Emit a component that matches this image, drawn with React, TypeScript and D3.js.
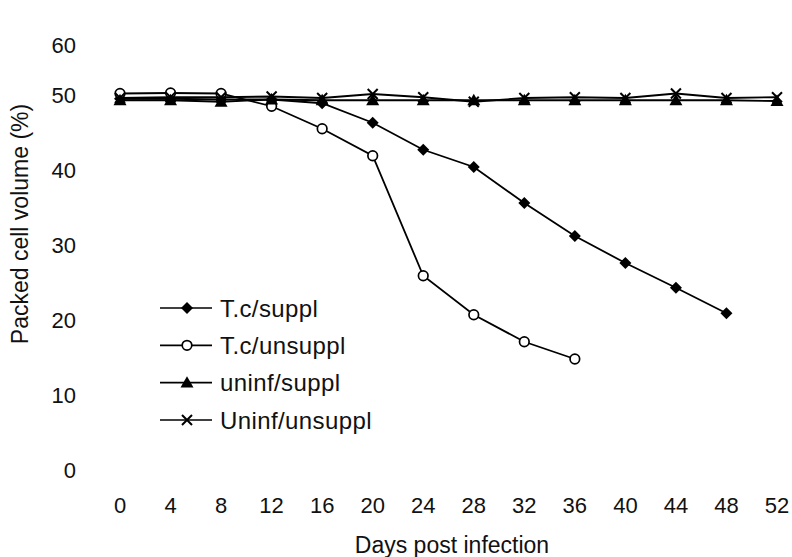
import React from "react";
import * as d3 from "d3";

const days = [0, 4, 8, 12, 16, 20, 24, 28, 32, 36, 40, 44, 48, 52];
const yTicks = [0, 10, 20, 30, 40, 50, 60];

const tcSuppl = [49.5, 49.5, 49.4, 49.4, 48.9, 46.3, 42.7, 40.4, 35.6, 31.2, 27.6, 24.3, 20.9];
const tcUnsuppl = [50.3, 50.4, 50.3, 48.5, 45.5, 41.9, 25.9, 20.7, 17.1, 14.8];
const uninfSuppl = [49.3, 49.3, 49.1, 49.4, 49.3, 49.3, 49.3, 49.3, 49.3, 49.3, 49.3, 49.3, 49.3, 49.2];
const uninfUnsuppl = [49.6, 49.7, 49.7, 49.8, 49.6, 50.2, 49.7, 49.1, 49.6, 49.7, 49.6, 50.3, 49.6, 49.7];

const seriesNames = ["T.c/suppl", "T.c/unsuppl", "uninf/suppl", "Uninf/unsuppl"];
const seriesMarkers = ["diamond", "circle", "triangle", "cross"];
const seriesValues = [tcSuppl, tcUnsuppl, uninfSuppl, uninfUnsuppl];

const FONT = "'Liberation Sans', Arial, Helvetica, sans-serif";

function Marker({ type, x, y }: { type: string; x: number; y: number }) {
  if (type === "diamond") {
    const s = 6;
    return <path d={`M${x},${y - s}L${x + s},${y}L${x},${y + s}L${x - s},${y}Z`} fill="#000" />;
  }
  if (type === "circle") {
    return <circle cx={x} cy={y} r={4.8} fill="#fff" stroke="#000" strokeWidth={1.7} />;
  }
  if (type === "triangle") {
    const s = 6.5;
    return <path d={`M${x},${y - s}L${x + s},${y + s * 0.75}L${x - s},${y + s * 0.75}Z`} fill="#000" />;
  }
  const s = 5;
  return (
    <path
      d={`M${x - s},${y - s}L${x + s},${y + s}M${x + s},${y - s}L${x - s},${y + s}`}
      stroke="#000"
      strokeWidth={2}
      fill="none"
    />
  );
}

export default function App() {
  const W = 792;
  const H = 557;
  const x = d3.scaleLinear().domain([0, 52]).range([120, 777]);
  const y = d3.scaleLinear().domain([0, 50, 60]).range([470, 95, 45]);

  const line = d3
    .line<number>()
    .x((_, i) => x(days[i]))
    .y((v) => y(v));

  const legendY = d3.scaleLinear().domain([0, 3]).range([308, 420]);

  return (
    <svg
      width={W}
      height={H}
      viewBox={`0 0 ${W} ${H}`}
      style={{ position: "absolute", left: 0, top: 0, background: "#fff" }}
      fontFamily={FONT}
    >
      <rect x={0} y={0} width={W} height={H} fill="#fff" />
      {yTicks.map((t) => (
        <text key={t} x={76} y={y(t)} dy="0.36em" textAnchor="end" fontSize={22} fill="#111">
          {t}
        </text>
      ))}
      {days.map((d) => (
        <text key={d} x={x(d)} y={513} textAnchor="middle" fontSize={22} fill="#111">
          {d}
        </text>
      ))}
      <text x={452} y={553} textAnchor="middle" fontSize={23} fill="#111">
        Days post infection
      </text>
      <text
        transform={`translate(28,224) rotate(-90)`}
        textAnchor="middle"
        fontSize={23}
        fill="#111"
      >
        Packed cell volume (%)
      </text>

      {seriesValues.map((vals, si) => (
        <g key={si}>
          <path d={line(vals) || ""} fill="none" stroke="#000" strokeWidth={1.8} />
          {vals.map((v, i) => (
            <Marker key={i} type={seriesMarkers[si]} x={x(days[i])} y={y(v)} />
          ))}
        </g>
      ))}

      {seriesNames.map((name, i) => {
        const ly = legendY(i);
        return (
          <g key={name}>
            <line x1={160} x2={212} y1={ly} y2={ly} stroke="#000" strokeWidth={1.7} />
            <Marker type={seriesMarkers[i]} x={187} y={ly} />
            <text x={220} y={ly} dy="0.36em" fontSize={24} letterSpacing={0.4} fill="#111">
              {name}
            </text>
          </g>
        );
      })}
    </svg>
  );
}
